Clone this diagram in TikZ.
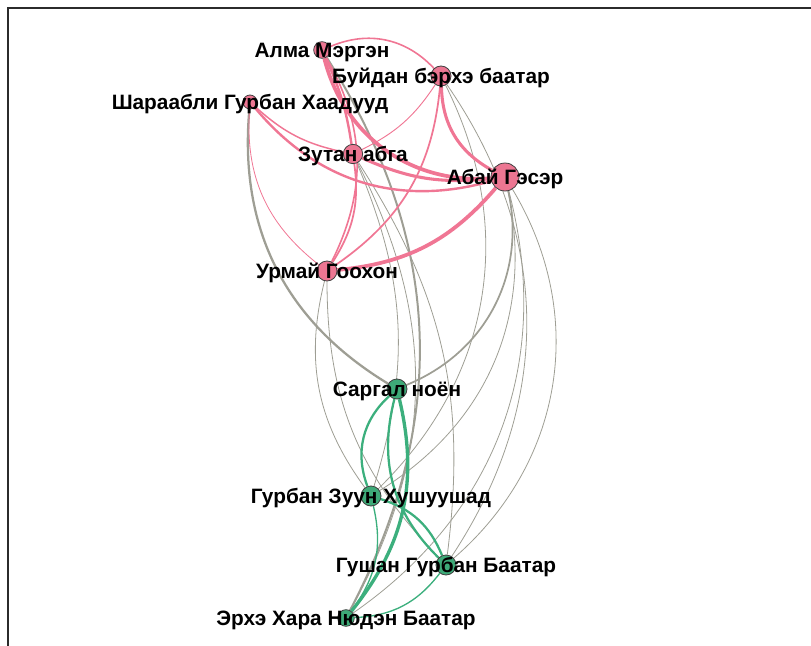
\documentclass[tikz,border=0pt]{standalone}
\usepackage{fontspec}
\setmainfont{Liberation Sans}
\usetikzlibrary{backgrounds}
\definecolor{npink}{RGB}{236,118,146}
\definecolor{ngreen}{RGB}{62,170,120}
\definecolor{epink}{RGB}{240,118,148}
\definecolor{egray}{RGB}{158,158,148}
\definecolor{egreen}{RGB}{60,175,125}
\definecolor{framec}{RGB}{43,43,43}
\begin{document}
\begin{tikzpicture}[x=0.75pt,y=-0.75pt,
  vtx/.style={circle,draw=black!75,line width=0.6pt,inner sep=0pt},
  pk/.style={vtx,fill=npink},
  gn/.style={vtx,fill=ngreen},
  lbl/.style={font=\bfseries\fontsize{15.6}{18}\selectfont,inner sep=0pt,text=black,anchor=base},
  ep/.style={draw=epink},
  eg/.style={draw=egray},
  en/.style={draw=egreen},
  framel/.style={draw=framec,line width=1.6pt},
]
\useasboundingbox (0,0) rectangle (811,646);
\draw[framel] (8,646) -- (8,8) -- (811,8);

% vertices
\node[pk,minimum size=12.5pt] (A) at (322,50) {};
\node[pk,minimum size=15pt] (B) at (441,76) {};
\node[pk,minimum size=10.5pt] (S) at (250,102) {};
\node[pk,minimum size=14.5pt] (Z) at (353,154) {};
\node[pk,minimum size=21pt] (G) at (505,177) {};
\node[pk,minimum size=15pt] (U) at (327,271) {};
\node[gn,minimum size=15pt] (N) at (397,389) {};
\node[gn,minimum size=15pt] (H) at (371,496) {};
\node[gn,minimum size=15pt] (T) at (446,565) {};
\node[gn,minimum size=12.5pt] (E) at (346,618) {};

% labels
\node[lbl] (lA) at ([yshift=-5.7pt]A.center) {Алма Мэргэн};
\node[lbl] (lB) at ([yshift=-5.7pt]B.center) {Буйдан бэрхэ баатар};
\node[lbl] (lS) at ([yshift=-5.7pt]S.center) {Шараабли Гурбан Хаадууд};
\node[lbl] (lZ) at ([yshift=-5.7pt]Z.center) {Зутан абга};
\node[lbl] (lG) at ([yshift=-5.7pt]G.center) {Абай Гэсэр};
\node[lbl] (lU) at ([yshift=-5.7pt]U.center) {Урмай Гоохон};
\node[lbl] (lN) at ([yshift=-5.7pt]N.center) {Саргал ноён};
\node[lbl] (lH) at ([yshift=-5.7pt]H.center) {Гурбан Зуун Хушуушад};
\node[lbl] (lT) at ([yshift=-5.7pt]T.center) {Гушан Гурбан Баатар};
\node[lbl] (lE) at ([yshift=-5.7pt]E.center) {Эрхэ Хара Нюдэн Баатар};

\begin{scope}[on background layer]
% gray inter-group edges
\draw[eg,line width=1.5pt] (A) to[bend left=30] (E);
\draw[eg,line width=1.7pt] (S) to[bend right=32] (N);
\draw[eg,line width=1.3pt] (G) to[bend left=40] (N);
\draw[eg,line width=0.6pt] (B) to[bend left=36] (H);
\draw[eg,line width=0.6pt] (B) to[bend left=34] (T);
\draw[eg,line width=0.6pt] (G) to[bend left=40] (T);
\draw[eg,line width=0.6pt] (G) to[bend left=35] (H);
\draw[eg,line width=0.6pt] (G) to[bend left=35] (E);
\draw[eg,line width=0.6pt] (U) to[bend right=25] (H);
\draw[eg,line width=0.6pt] (U) to[bend right=22] (T);
\draw[eg,line width=0.6pt] (Z) to[bend left=20] (H);
\draw[eg,line width=0.6pt] (Z) to[bend left=20] (T);
\draw[eg,line width=0.6pt] (Z) to[bend left=28] (E);
% pink edges
\draw[ep,line width=1.2pt] (A) to[bend left=35] (B);
\draw[ep,line width=2.8pt] (A) to[bend right=40] (G);
\draw[ep,line width=1.8pt] (A) to[bend left=8] (Z);
\draw[ep,line width=1.2pt] (A) to[bend left=28] (U);
\draw[ep,line width=0.7pt] (B) to[bend left=15] (Z);
\draw[ep,line width=2.3pt] (B) to[bend right=30] (G);
\draw[ep,line width=1.3pt] (B) to[bend left=25] (U);
\draw[ep,line width=1.3pt] (Z) to[bend left=20] (U);
\draw[ep,line width=2.8pt] (G) to[bend left=22] (U);
\draw[ep,line width=2.3pt] (Z) to[bend right=15] (G);
\draw[ep,line width=1.8pt] (S) to[bend right=33] (G);
\draw[ep,line width=1.1pt] (S) to[bend right=15] (Z);
\draw[ep,line width=0.6pt] (S) to[bend right=28] (U);
% green edges
\draw[en,line width=1.7pt] (N) to[bend right=34] (H);
\draw[en,line width=2.5pt] (N) to[bend left=26] (E);
\draw[en,line width=1.7pt] (N) to[bend right=30] (T);
\draw[en,line width=1.7pt] (H) to[bend left=25] (T);
\draw[en,line width=1pt] (H) to[bend left=25] (E);
\draw[en,line width=1pt] (T) to[bend left=25] (E);
\end{scope}
\end{tikzpicture}
\end{document}
